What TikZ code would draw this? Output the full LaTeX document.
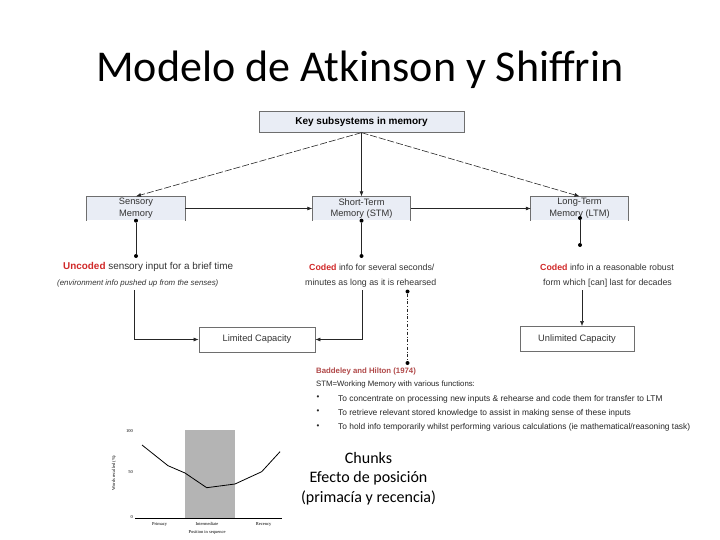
\documentclass[tikz,border=0pt]{standalone}
\usepackage{fontspec}
\setmainfont{Liberation Sans}
\newfontfamily\calibri{Carlito}
\newfontfamily\chartserif{Liberation Serif}
\usetikzlibrary{arrows.meta}
\definecolor{boxfill}{HTML}{E9EDF5}
\definecolor{boxline}{HTML}{6E6E6E}
\definecolor{codedred}{HTML}{D02828}
\definecolor{baddred}{HTML}{B04848}
\definecolor{chartgrey}{HTML}{B4B4B4}
\begin{document}
\begin{tikzpicture}[x=1pt,y=-1pt,
	keybox/.style={draw=boxline, line width=0.8pt, fill=boxfill, minimum width=205pt, minimum height=20.5pt, inner sep=0pt, font=\bfseries\fontsize{10}{12}\selectfont},
	membox/.style={fill=boxfill, minimum width=98pt, minimum height=24pt, inner sep=0pt, align=center, text=black!80, font=\fontsize{9.3}{11.7}\selectfont},
	capbox/.style={draw=boxline, line width=0.8pt, fill=white, minimum height=25pt, inner sep=0pt, text=black!80, font=\fontsize{9.3}{11}\selectfont},
	dot/.style={circle, fill=black, minimum size=4pt, inner sep=0pt, outer sep=0pt},
	note/.style={anchor=west, inner sep=0pt, text=black!80, font=\fontsize{8.8}{11}\selectfont},
	func/.style={anchor=west, inner sep=0pt, text=black!85, font=\fontsize{7.8}{9}\selectfont},
	arr/.style={-{Latex[length=5pt,width=4pt]}, line width=0.6pt, draw=black!85},
	chart/.style={inner sep=0pt, font=\chartserif\fontsize{4.5}{5}\selectfont}]
	\useasboundingbox (0,0) rectangle (720,540);
	% title
	\node[anchor=base, inner sep=0pt, font=\calibri\fontsize{44}{52}\selectfont] (title) at (360,82) {Modelo de Atkinson y Shiffrin};
	% subsystems
	\node[keybox] (key) at (361.5,122) {Key subsystems in memory};
	\node[membox] (sens) at (136,208.5) {Sensory\\Memory};
	\node[membox] (stm) at (361.5,208.5) {Short-Term\\Memory (STM)};
	\node[membox, minimum width=97pt] (ltm) at (579.5,208.5) {Long-Term\\Memory (LTM)};
	\foreach \b in {sens,stm,ltm}
		\draw[boxline, line width=0.8pt] (\b.south west) |- (\b.north east) -- (\b.south east);
	\draw[arr, dash pattern=on 7pt off 2pt] (key.south) -- (sens.north);
	\draw[arr, dash pattern=on 7pt off 2pt] (key.south) -- (ltm.north);
	\draw[arr] (key.south) -- (stm.north);
	\draw[arr] (sens.east) -- (stm.west);
	\draw[arr] (stm.east) -- (ltm.west);
	% dots under the boxes
	\node[dot] at (sens.south) (d1) {};
	\node[dot] at (136,256) (d2) {};
	\node[dot] at (stm.south) (d3) {};
	\node[dot] at (361.5,256) (d4) {};
	\node[dot] at (580,218) (d5) {};
	\node[dot] at (580,245) (d6) {};
	\draw[black!85, line width=0.6pt] (d1)--(d2) (d3)--(d4) (d5)--(d6);
	% notes
	\node[note, font=\fontsize{9.9}{11}\selectfont] (n1) at (63,267) {\textcolor{codedred}{\bfseries Uncoded} sensory input for a brief time};
	\node[note, font=\itshape\fontsize{7.9}{11}\selectfont] (n2) at (57,283) {(environment info pushed up from the senses)};
	\node[note] (n3) at (309,267) {\textcolor{codedred}{\bfseries Coded} info for several seconds/};
	\node[note] (n4) at (305,283) {minutes as long as it is rehearsed};
	\node[note] (n5) at (540,267) {\textcolor{codedred}{\bfseries Coded} info in a reasonable robust};
	\node[note] (n6) at (543,283) {form which [can] last for decades};
	% capacities
	\node[capbox, minimum width=116pt] (lim) at (257,339.5) {Limited Capacity};
	\node[capbox, minimum width=114pt] (unl) at (577,339) {Unlimited Capacity};
	\coordinate (c1) at (134.5,290);
	\coordinate (c2) at (362.5,290);
	\coordinate (c3) at (582,290);
	\draw[arr] (c1) |- (lim.west);
	\draw[arr] (c2) |- (lim.east);
	\draw[arr] (c3) -- (c3 |- unl.north);
	% working memory
	\node[dot] at (407.5,291.5) (w1) {};
	\node[dot] at (407.5,363) (w2) {};
	\draw[black!85, line width=0.6pt, dash dot] (w1) -- (w2);
	\node[func, text=baddred, font=\bfseries\fontsize{7.8}{8}\selectfont] (badd) at (316,371) {Baddeley and Hilton (1974)};
	\node[func] (wm) at (316,384.5) {STM=Working Memory with various functions:};
	\foreach \y/\t in {399/{To concentrate on processing new inputs \& rehearse and code them for transfer to LTM},
		413/{To retrieve relevant stored knowledge to assist in making sense of these inputs},
		427.5/{To hold info temporarily whilst performing various calculations (ie mathematical/reasoning task)}}{
		\node[func, font=\fontsize{8}{9}\selectfont] at (316.5,\y-1) {\textbullet};
		\node[func, font=\fontsize{8.4}{9}\selectfont] at (338,\y) {\t};
	}
	% serial position chart
	\fill[chartgrey] (185,430) rectangle (235,517.7);
	\draw[line width=0.4pt] (135,517.7) -- (282,517.7);
	\draw[line width=0.8pt, line join=round] (142,445) -- (168,465.7) -- (185,473) -- (206.7,487.7) -- (235,484) -- (261.7,471.7) -- (280,451.7);
	\node[chart, anchor=east] (y100) at (133,431.5) {100};
	\node[chart, anchor=east] (y50) at (133,472) {50};
	\node[chart, anchor=east] (y0) at (133,517) {0};
	\node[chart, rotate=90] (ylab) at (114,473) {Words recalled (\%)};
	\node[chart, anchor=base] (xp) at (159.5,525) {Primacy};
	\node[chart, anchor=base] (xi) at (207,525) {Intermediate};
	\node[chart, anchor=base] (xr) at (263.5,525) {Recency};
	\node[chart, anchor=base] (xlab) at (207,533) {Position in sequence};
	% chunks
	\node[align=center, inner sep=0pt, font=\calibri\fontsize{16}{19.5}\selectfont] (chunks) at (368.5,478.5) {Chunks\\Efecto de posición\\(primacía y recencia)};
\end{tikzpicture}
\end{document}
